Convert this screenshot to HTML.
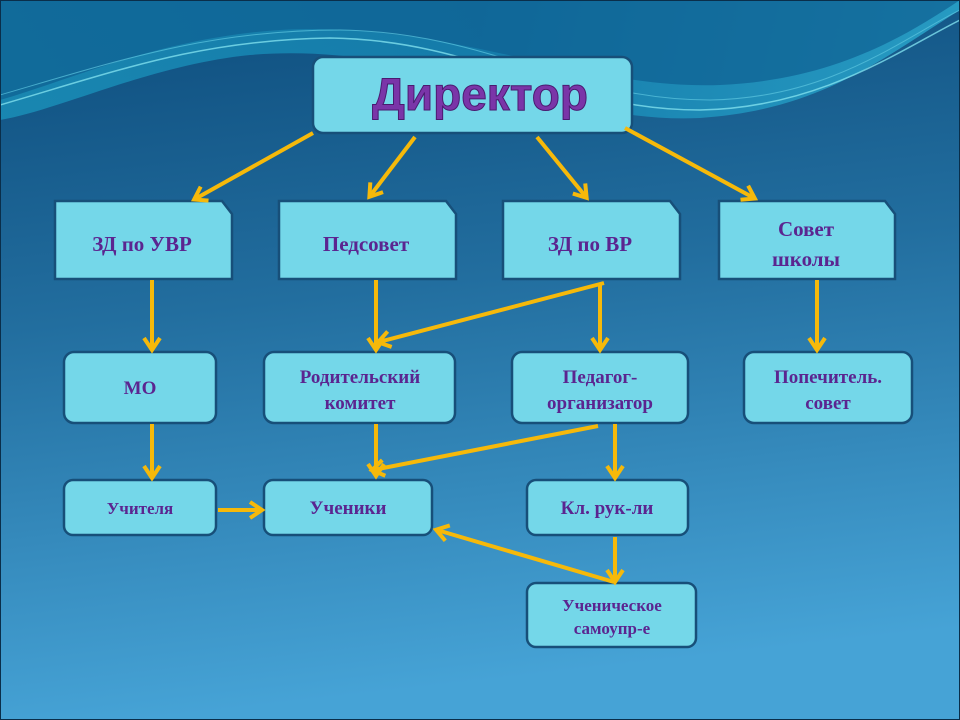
<!DOCTYPE html>
<html><head><meta charset="utf-8"><style>
html,body{margin:0;padding:0;width:960px;height:720px;overflow:hidden}
svg text{font-family:"Liberation Serif",serif;fill:#5b2590;text-anchor:middle;font-weight:bold}
</style></head><body>
<svg width="960" height="720" viewBox="0 0 960 720" xmlns="http://www.w3.org/2000/svg">
<defs>
<linearGradient id="bg" x1="0" y1="0" x2="0.15" y2="1">
<stop offset="0" stop-color="#0d4c7c"/><stop offset="0.45" stop-color="#226e9f"/><stop offset="1" stop-color="#46a3d6"/></linearGradient>
<linearGradient id="wv" x1="0" y1="0" x2="1" y2="0">
<stop offset="0" stop-color="#1a8fb8"/><stop offset="0.5" stop-color="#1582b0"/><stop offset="1" stop-color="#2aa6cc"/></linearGradient>
<marker id="a" markerWidth="20" markerHeight="20" refX="14" refY="10" orient="auto" markerUnits="userSpaceOnUse" viewBox="0 0 20 20">
<path d="M3,2 L15,10 L3,18" fill="none" stroke="#f6b90a" stroke-width="4" stroke-linejoin="miter"/></marker>
</defs>
<rect width="960" height="720" fill="url(#bg)"/>
<path d="M0,0 H960 V10 C880,60 820,110 700,118 C560,125 420,40 250,55 C150,65 60,110 0,120 Z" fill="url(#wv)" opacity="0.85"/>
<path d="M0,0 H960 V0 C900,40 830,80 720,85 C580,90 450,20 280,30 C160,38 70,80 0,100 Z" fill="#0e5f92" opacity="0.7"/>
<path d="M0,105 C120,70 200,40 330,38 C480,40 560,110 700,110 C820,108 900,50 960,20" fill="none" stroke="#7fe0ee" stroke-width="1.5" opacity="0.8"/>
<path d="M0,95 C120,60 210,30 340,30 C490,32 570,100 710,100 C830,98 900,40 960,10" fill="none" stroke="#5cc6e0" stroke-width="1" opacity="0.7"/>
<rect x="0.5" y="0.5" width="959" height="719" fill="none" stroke="#0a2e4a" stroke-width="1"/>

<g fill="#74d7e9" stroke="#174f79" stroke-width="2.5">
<rect x="313" y="57" width="319" height="76" rx="10"/>
<path d="M55,201 H222 L232,214 V279 H55 Z"/>
<path d="M279,201 H446 L456,214 V279 H279 Z"/>
<path d="M503,201 H670 L680,214 V279 H503 Z"/>
<path d="M719,201 H885 L895,214 V279 H719 Z"/>
<rect x="64" y="352" width="152" height="71" rx="10"/>
<rect x="264" y="352" width="191" height="71" rx="10"/>
<rect x="512" y="352" width="176" height="71" rx="10"/>
<rect x="744" y="352" width="168" height="71" rx="10"/>
<rect x="64" y="480" width="152" height="55" rx="9"/>
<rect x="264" y="480" width="168" height="55" rx="9"/>
<rect x="527" y="480" width="161" height="55" rx="9"/>
<rect x="527" y="583" width="169" height="64" rx="9"/>
</g>

<g stroke="#f6b90a" stroke-width="4" fill="none" marker-end="url(#a)">
<line x1="313" y1="133" x2="195" y2="199"/>
<line x1="415" y1="137" x2="370" y2="196"/>
<line x1="537" y1="137" x2="586" y2="197"/>
<line x1="625" y1="128" x2="754" y2="198"/>
<line x1="152" y1="280" x2="152" y2="349"/>
<line x1="376" y1="280" x2="376" y2="349"/>
<line x1="604" y1="283" x2="379" y2="342"/>
<line x1="600" y1="283" x2="600" y2="349"/>
<line x1="817" y1="280" x2="817" y2="349"/>
<line x1="152" y1="424" x2="152" y2="477"/>
<line x1="376" y1="424" x2="376" y2="475"/>
<line x1="598" y1="426" x2="373" y2="470"/>
<line x1="615" y1="424" x2="615" y2="477"/>
<line x1="218" y1="510" x2="261" y2="510"/>
<line x1="615" y1="537" x2="615" y2="581"/>
<line x1="614" y1="582" x2="437" y2="530"/>
</g>

<text x="480" y="110" style="font-family:'Liberation Sans',sans-serif;font-size:46px;fill:#7a35a8;stroke:#4a1a70;stroke-width:1">Директор</text>
<g font-size="21">
<text x="142" y="251">ЗД по УВР</text>
<text x="366" y="251">Педсовет</text>
<text x="590" y="251">ЗД по ВР</text>
<text x="806" y="236">Совет</text>
<text x="806" y="266">школы</text>
</g>
<g font-size="19">
<text x="140" y="394">МО</text>
<text x="360" y="383">Родительский</text>
<text x="360" y="409">комитет</text>
<text x="600" y="383">Педагог-</text>
<text x="600" y="409">организатор</text>
<text x="828" y="383">Попечитель.</text>
<text x="828" y="409">совет</text>
<text x="140" y="514" font-size="17">Учителя</text>
<text x="348" y="514">Ученики</text>
<text x="607" y="514">Кл. рук-ли</text>
<text x="612" y="611" font-size="17">Ученическое</text>
<text x="612" y="634" font-size="17">самоупр-е</text>
</g>
</svg>
</body></html>
